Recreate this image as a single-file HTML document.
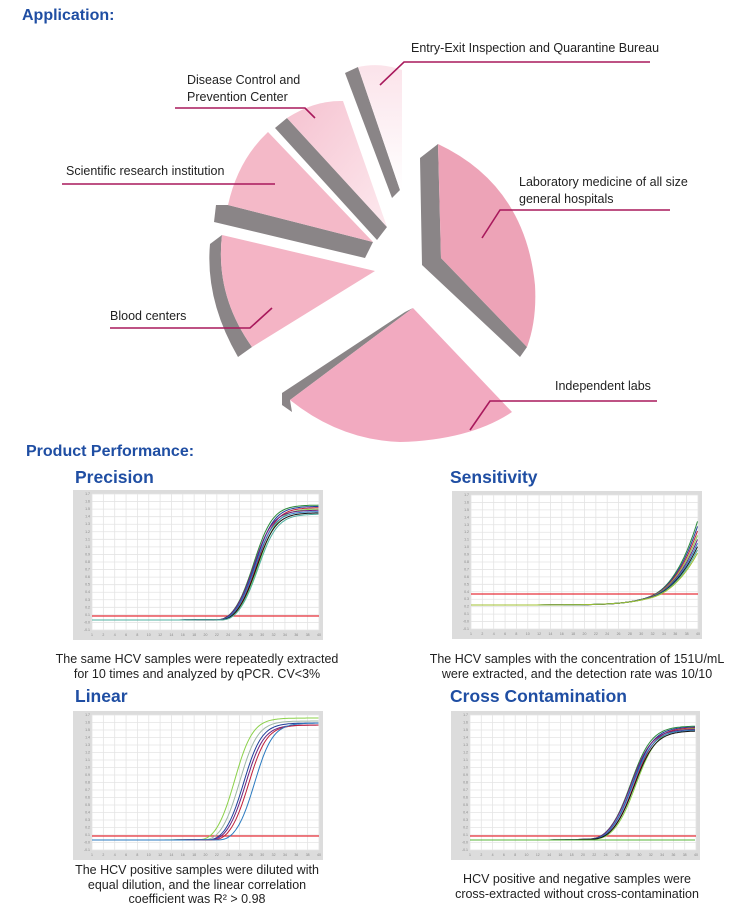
<!DOCTYPE html>
<html><head><meta charset="utf-8"><style>
body{margin:0;width:746px;height:914px;background:#fff;position:relative;overflow:hidden;font-family:"Liberation Sans",sans-serif;}
.t{position:absolute;white-space:nowrap;color:#222;font-size:12.5px;line-height:17px}
.h{position:absolute;white-space:nowrap;color:#1f4ea3;font-weight:bold;font-size:16px}
.h2{position:absolute;white-space:nowrap;color:#1f4ea3;font-weight:bold;font-size:17.5px}
.cap{position:absolute;text-align:center;color:#222;font-size:12.5px;line-height:14.5px;width:300px}
svg{position:absolute;left:0;top:0}
</style></head><body>
<svg width="746" height="914" id="s">
<defs>
<linearGradient id="fade" x1="0" y1="0" x2="0" y2="1"><stop offset="0" stop-color="#fbe3ea"/><stop offset="1" stop-color="#fff"/></linearGradient>
<linearGradient id="dis" x1="0" y1="0" x2="1" y2="1"><stop offset="0" stop-color="#f5c2d0"/><stop offset="1" stop-color="#fde9ee"/></linearGradient>
</defs>
<polygon points="345,73 358,67 400,190 392,198" fill="#8a8587"/>
<path d="M358,67 Q380,62 402,70 L402,190 L400,190 Z" fill="url(#fade)"/>
<polygon points="275,128 287,118 387,227 377,240" fill="#8a8587"/>
<path d="M287,118 Q315,100 343,101 L387,227 Z" fill="url(#dis)"/>
<polygon points="216,205 228,205 373,242 365,258 214,222" fill="#8a8587"/>
<path d="M268,132 Q238,160 228,205 L373,242 Z" fill="#f4b9c8"/>
<path d="M210,244 Q205,300 238,357 L252,347 Q215,295 222,235 Z" fill="#8a8587"/>
<path d="M222,235 Q215,295 252,347 L375,271 Z" fill="#f4b4c5"/>
<polygon points="420,158 438,144 441,258 527,347 520,357 422,265" fill="#8a8587"/>
<path d="M438,144 Q525,185 535,285 Q537,320 527,347 L441,258 Z" fill="#eda3b7"/>
<polygon points="282,393 405,312 413,308 290,400 292,412 282,405" fill="#8a8587"/>
<path d="M413,308 L290,400 Q340,440 400,442 Q470,440 512,412 Z" fill="#f2aac0"/>
<g stroke="#a8195c" stroke-width="1.6" fill="none">
<polyline points="380,85 404,62 650,62"/>
<polyline points="175,108 305,108 315,118"/>
<polyline points="62,184 275,184"/>
<polyline points="110,328 250,328 272,308"/>
<polyline points="482,238 500,210 670,210"/>
<polyline points="470,430 490,401 657,401"/>
</g>
<g id="charts"></g>
</svg>
<div class="h" style="left:22px;top:7px">Application:</div>
<div class="h" style="left:26px;top:443px">Product Performance:</div>
<div class="t" style="left:411px;top:40px">Entry-Exit Inspection and Quarantine Bureau</div>
<div class="t" style="left:187px;top:72px">Disease Control and<br>Prevention Center</div>
<div class="t" style="left:66px;top:163px">Scientific research institution</div>
<div class="t" style="left:519px;top:174px">Laboratory medicine of all size<br>general hospitals</div>
<div class="t" style="left:110px;top:308px">Blood centers</div>
<div class="t" style="left:555px;top:378px">Independent labs</div>
<div class="h2" style="left:75px;top:467px">Precision</div>
<div class="h2" style="left:450px;top:467px">Sensitivity</div>
<div class="h2" style="left:75px;top:686px">Linear</div>
<div class="h2" style="left:450px;top:686px">Cross Contamination</div>
<div class="cap" style="left:47px;top:652px">The same HCV samples were repeatedly extracted<br>for 10 times and analyzed by qPCR. CV&lt;3%</div>
<div class="cap" style="left:427px;top:652px">The HCV samples with the concentration of 151U/mL<br>were extracted, and the detection rate was 10/10</div>
<div class="cap" style="left:47px;top:863px">The HCV positive samples were diluted with<br>equal dilution, and the linear correlation<br>coefficient was R² &gt; 0.98</div>
<div class="cap" style="left:427px;top:872px">HCV positive and negative samples were<br>cross-extracted without cross-contamination</div>
<script>
var g=document.getElementById('charts'),NS='http://www.w3.org/2000/svg';
function el(t,a){var e=document.createElementNS(NS,t);for(var k in a)e.setAttribute(k,a[k]);g.appendChild(e);return e;}
var cols=['#2a8a3a','#1f3f9a','#c0203a','#8bd14a','#6a2080','#2a7ac0','#111','#50b0a0','#a0c030','#3050c0'];
function chart(px,py,pw,ph,zeroY,redY,curves){
 el('rect',{x:px,y:py,width:pw,height:ph,fill:'#dcdcdc'});
 var x0=px+19,y0=py+4,x1=px+pw-4,y1=py+ph-10;
 el('rect',{x:x0,y:y0,width:x1-x0,height:y1-y0,fill:'#fff'});
 for(var i=0;i<=20;i++){var x=x0+(x1-x0)*i/20;el('line',{x1:x,y1:y0,x2:x,y2:y1,stroke:'#e4e4e4','stroke-width':0.8});
  var tx=el('text',{x:x,y:y1+6,'font-size':3.5,fill:'#888','text-anchor':'middle'});tx.textContent=2*i+(i?0:1);}
 for(var j=0;j<=18;j++){var y=y0+(y1-y0)*j/18;el('line',{x1:x0,y1:y,x2:x1,y2:y,stroke:'#e4e4e4','stroke-width':0.8});
  var ty=el('text',{x:x0-2,y:y+1,'font-size':3.5,fill:'#888','text-anchor':'end'});ty.textContent=(1.7-j*0.1).toFixed(1);}
 el('line',{x1:x0,y1:redY,x2:x1,y2:redY,stroke:'#e8303a','stroke-width':1.3});
 curves.forEach(function(c,ci){var d='';
  for(var x=x0;x<=x1;x+=1.5){var s=1/(1+Math.exp(-(x-c.m)/c.k));var dip=c.dip?c.dip*Math.exp(-Math.pow((x-(c.m-3*c.k))/14,2)):0;
   var y=zeroY-(zeroY-c.top)*s+dip;d+=(d?'L':'M')+x.toFixed(1)+','+y.toFixed(1);}
  el('path',{d:d,fill:'none',stroke:c.c||cols[ci%10],'stroke-width':1});});
}
var P=[],i;
for(i=0;i<8;i++)P.push({m:254+(i%4)*1.5,k:9.5,top:505+i*1.3,dip:3});
chart(73,490,250,150,620,616,P);
var S=[];
for(i=0;i<9;i++)S.push({m:716+i*1.5,k:19+i*0.4,top:300+i*6,dip:1});
chart(452,491,250,148,605,594,S);
var L=[{m:235,k:9,top:718,c:'#8bd14a',dip:3},{m:240,k:9,top:721,c:'#a0b8a8',dip:3},{m:244,k:9,top:723,c:'#1f3f9a',dip:3},{m:246,k:9,top:725,c:'#6a2080',dip:3},{m:249,k:9,top:725,c:'#c0203a',dip:3},{m:255,k:9,top:723,c:'#2a7ac0',dip:3}];
chart(73,711,250,149,840,836,L);
var C=[];
for(i=0;i<7;i++)C.push({m:631+(i%4)*1.7,k:10.5,top:726+i*0.8,dip:2});
chart(451,711,249,149,840,836,C);
el('line',{x1:470,y1:840,x2:695,y2:840,stroke:'#5ab43a','stroke-width':1});
</script>
</body></html>
